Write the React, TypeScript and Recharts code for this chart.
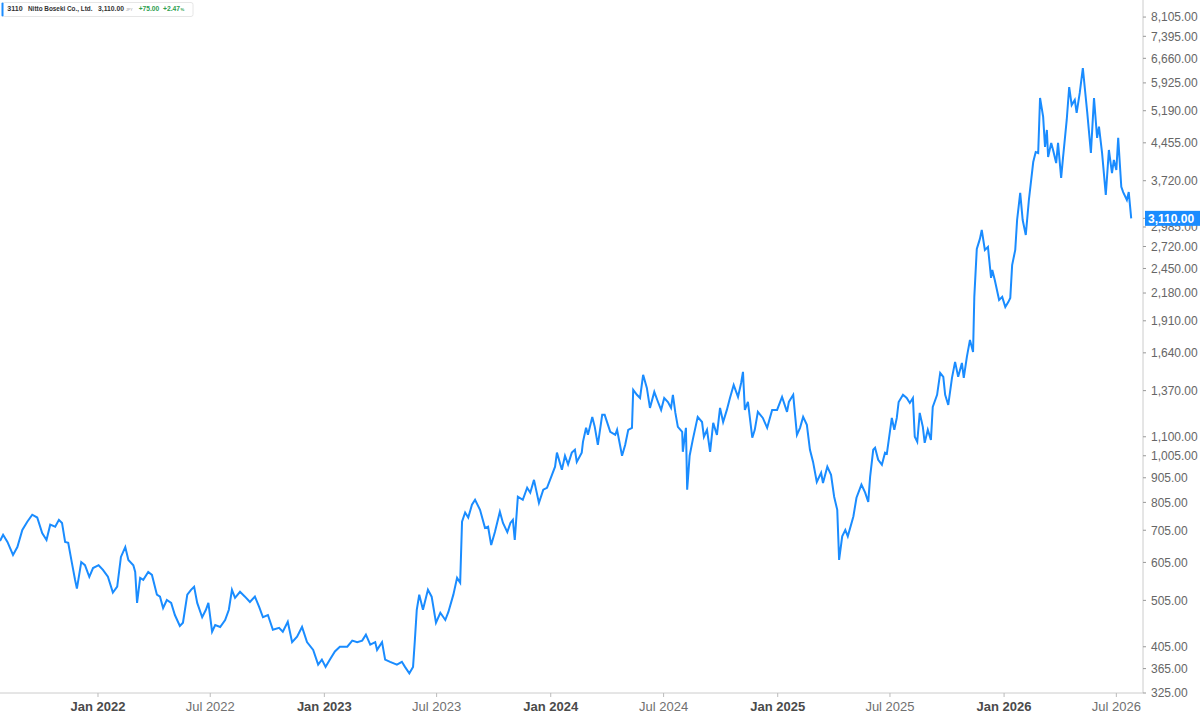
import React from "react";
import { LineChart, Line, XAxis, YAxis } from "recharts";

const dates: string[] = [
  "2021-07-27","2021-08-01","2021-08-08","2021-08-17","2021-08-24","2021-09-01","2021-09-09","2021-09-17","2021-09-25",
  "2021-10-03","2021-10-10","2021-10-16","2021-10-24","2021-10-30","2021-11-04","2021-11-09","2021-11-14","2021-11-20",
  "2021-11-25","2021-11-28","2021-12-05","2021-12-11","2021-12-18","2021-12-24","2022-01-02","2022-01-09","2022-01-17",
  "2022-01-25","2022-02-01","2022-02-07","2022-02-14","2022-02-19","2022-02-27","2022-03-02","2022-03-05","2022-03-10",
  "2022-03-15","2022-03-23","2022-03-29","2022-04-06","2022-04-11","2022-04-16","2022-04-22","2022-04-29","2022-05-05",
  "2022-05-13","2022-05-18","2022-05-25","2022-05-31","2022-06-05","2022-06-10","2022-06-18","2022-06-24","2022-06-28",
  "2022-07-04","2022-07-09","2022-07-17","2022-07-25","2022-07-31","2022-08-05","2022-08-10","2022-08-18","2022-08-26",
  "2022-09-03","2022-09-11","2022-09-18","2022-09-24","2022-10-02","2022-10-10","2022-10-20","2022-10-26","2022-11-03",
  "2022-11-10","2022-11-18","2022-11-26","2022-12-04","2022-12-14","2022-12-22","2022-12-28","2023-01-03","2023-01-10",
  "2023-01-18","2023-01-26","2023-02-07","2023-02-15","2023-02-23","2023-03-03","2023-03-09","2023-03-16","2023-03-24",
  "2023-03-27","2023-04-04","2023-04-09","2023-04-17","2023-04-28","2023-05-06","2023-05-11","2023-05-18","2023-05-24",
  "2023-05-27","2023-05-30","2023-06-03","2023-06-09","2023-06-17","2023-06-23","2023-06-30","2023-07-07","2023-07-15",
  "2023-07-20","2023-07-28","2023-08-03","2023-08-08","2023-08-11","2023-08-16","2023-08-21","2023-08-27","2023-09-01",
  "2023-09-09","2023-09-17","2023-09-22","2023-09-27","2023-10-03","2023-10-11","2023-10-16","2023-10-23","2023-10-28",
  "2023-11-01","2023-11-04","2023-11-09","2023-11-17","2023-11-24","2023-11-29","2023-12-05","2023-12-13","2023-12-20",
  "2023-12-26","2024-01-03","2024-01-08","2024-01-11","2024-01-19","2024-01-24","2024-01-29","2024-02-04","2024-02-09",
  "2024-02-12","2024-02-20","2024-02-22","2024-02-27","2024-03-01","2024-03-08","2024-03-12","2024-03-17","2024-03-24",
  "2024-03-28","2024-04-06","2024-04-14","2024-04-17","2024-04-25","2024-04-30","2024-05-05","2024-05-11","2024-05-13",
  "2024-05-19","2024-05-24","2024-05-29","2024-06-04","2024-06-09","2024-06-16","2024-06-22","2024-06-27","2024-07-02",
  "2024-07-08","2024-07-13","2024-07-16","2024-07-20","2024-07-24","2024-07-31","2024-08-01","2024-08-06","2024-08-08",
  "2024-08-12","2024-08-17","2024-08-25","2024-09-01","2024-09-04","2024-09-09","2024-09-14","2024-09-19","2024-09-25",
  "2024-09-30","2024-10-05","2024-10-11","2024-10-16","2024-10-22","2024-10-29","2024-11-03","2024-11-06","2024-11-09",
  "2024-11-14","2024-11-21","2024-11-25","2024-11-30","2024-12-08","2024-12-15","2024-12-23","2024-12-31","2025-01-08",
  "2025-01-16","2025-01-19","2025-01-26","2025-02-01","2025-02-06","2025-02-11","2025-02-17","2025-02-22","2025-02-27",
  "2025-03-05","2025-03-12","2025-03-15","2025-03-22","2025-03-28","2025-04-02","2025-04-07","2025-04-10","2025-04-15",
  "2025-04-20","2025-04-24","2025-05-03","2025-05-08","2025-05-16","2025-05-22","2025-05-27","2025-05-30","2025-06-04",
  "2025-06-07","2025-06-12","2025-06-18","2025-06-23","2025-06-26","2025-07-04","2025-07-08","2025-07-12","2025-07-15",
  "2025-07-22","2025-07-28","2025-08-02","2025-08-07","2025-08-10","2025-08-14","2025-08-18","2025-08-23","2025-08-26",
  "2025-08-31","2025-09-05","2025-09-08","2025-09-15","2025-09-20","2025-09-25","2025-09-28","2025-10-03","2025-10-09",
  "2025-10-14","2025-10-19","2025-10-25","2025-10-28","2025-11-02","2025-11-07","2025-11-12","2025-11-14","2025-11-18",
  "2025-11-23","2025-11-26","2025-12-01","2025-12-06","2025-12-11","2025-12-13","2025-12-17","2025-12-24","2025-12-29",
  "2026-01-03","2026-01-08","2026-01-11","2026-01-14","2026-01-19","2026-01-22","2026-01-27","2026-01-31","2026-02-05",
  "2026-02-10","2026-02-17","2026-02-21","2026-02-25","2026-02-28","2026-03-05","2026-03-08","2026-03-11","2026-03-13",
  "2026-03-18","2026-03-21","2026-03-26","2026-03-29","2026-04-03","2026-04-06","2026-04-12","2026-04-16","2026-04-20",
  "2026-04-25","2026-04-28","2026-05-03","2026-05-08","2026-05-11","2026-05-15","2026-05-21","2026-05-26","2026-05-31",
  "2026-06-03","2026-06-08","2026-06-14","2026-06-19","2026-06-24","2026-06-27","2026-07-01","2026-07-04","2026-07-09",
  "2026-07-12","2026-07-18","2026-07-21","2026-07-25",
];

const prices: number[] = [
  670,690,667,627,651,706,734,759,749,
  696,673,724,717,741,730,667,664,603,
  557,534,606,597,565,589,597,584,565,
  524,539,621,651,612,597,578,499,562,
  557,578,570,519,514,487,506,499,471,
  447,454,519,531,539,499,466,483,499,
  435,449,445,460,483,531,511,526,514,
  501,514,489,466,471,439,443,435,456,
  414,425,445,414,399,372,381,368,381,
  396,405,405,417,414,417,429,409,414,
  399,414,381,377,372,377,368,357,368,
  419,483,519,483,531,514,454,476,460,
  478,519,562,549,734,767,749,796,815,
  777,713,717,657,699,770,730,699,730,
  741,673,827,815,863,843,896,803,855,
  863,918,954,1020,940,1005,965,1020,1034,
  976,1020,1074,1148,1110,1209,1153,1058,1221,
  1221,1126,1110,1137,1005,1058,1137,1148,1375,
  1343,1323,1477,1388,1262,1362,1298,1250,1323,
  1298,1262,1343,1232,1153,1126,1024,1148,855,
  1005,1084,1209,1180,1100,1137,1024,1175,1110,
  1262,1180,1250,1323,1408,1330,1421,1498,1250,
  1298,1095,1137,1238,1203,1148,1250,1250,1330,
  1238,1298,1343,1110,1148,1209,1164,1034,976,
  887,927,883,954,918,827,777,612,685,
  706,685,753,823,876,843,807,909,1034,
  1044,986,963,1020,1015,1203,1137,1203,1298,
  1343,1323,1292,1323,1100,1074,1232,1153,1069,
  1137,1084,1268,1343,1491,1463,1343,1280,1456,
  1571,1463,1563,1456,1609,1744,1647,2140,2690,
  2820,2943,2676,2714,2342,2433,2320,2109,2140,
  2040,2090,2130,2490,2676,3086,3510,3086,2874,
  3394,4066,4265,4245,5515,5040,4370,4736,4165,
  4452,4306,4046,4452,3770,4146,4967,5810,5330,
  5463,5135,5648,6360,5810,5160,4245,5515,4560,
  4810,4245,3475,4306,3855,4106,3915,4560,3612,
  3524,3394,3524,3110,
];

const xTickDates: string[] = [
  "2022-01-01","2022-07-01","2023-01-01","2023-07-01","2024-01-01",
  "2024-07-01","2025-01-01","2025-07-01","2026-01-01","2026-07-01",
];
const xTickLabels: string[] = [
  "Jan 2022","Jul 2022","Jan 2023","Jul 2023","Jan 2024",
  "Jul 2024","Jan 2025","Jul 2025","Jan 2026","Jul 2026",
];
const yTicks: number[] = [
  325,365,405,505,605,705,805,905,1005,1100,1370,1640,1910,2180,2450,2720,2985,3720,4455,5190,5925,6660,7395,8105,3110,
];
const lastPrice = 3110;
const xDomain: string[] = ["2021-07-27", "2026-08-13"];
const yDomain: number[] = [325, 8790];

const data = dates.map((d, i) => ({ t: Date.parse(d), price: prices[i] }));
const xTicks = xTickDates.map((d) => Date.parse(d));

const FONT = "'Liberation Sans', Arial, Helvetica, sans-serif";
const BLUE = "#1a8cff";
const GREEN = "#2e9e4f";

const fmt = (v: number) =>
  v.toLocaleString("en-US", { minimumFractionDigits: 2, maximumFractionDigits: 2 });

const XTick = (props: any) => {
  const { x, y, payload } = props;
  const idx = xTicks.indexOf(payload.value);
  const label = idx >= 0 ? xTickLabels[idx] : "";
  const isJan = label.startsWith("Jan");
  return (
    <text
      x={x}
      y={y}
      dy="0.71em"
      textAnchor="middle"
      fontFamily={FONT}
      fontSize={13}
      fontWeight={isJan ? 700 : 400}
      fill={isJan ? "#4a4a4a" : "#707070"}
    >
      {label}
    </text>
  );
};

const YTick = (props: any) => {
  const { x, y, payload } = props;
  const v = payload.value as number;
  if (v === lastPrice) {
    return (
      <g>
        <rect x={x - 6} y={y - 7.5} width={57} height={15} fill={BLUE} />
        <text
          x={x - 3}
          y={y}
          dy="0.355em"
          textAnchor="start"
          fontFamily={FONT}
          fontSize={12}
          fontWeight={700}
          fill="#ffffff"
        >
          {fmt(v)}
        </text>
      </g>
    );
  }
  return (
    <text
      x={x}
      y={y}
      dy="0.355em"
      textAnchor="start"
      fontFamily={FONT}
      fontSize={12}
      fill="#666666"
    >
      {fmt(v)}
    </text>
  );
};

const Legend = () => {
  const base = { fontFamily: FONT, fontWeight: 700 as const, lengthAdjust: "spacingAndGlyphs" as const };
  const by = 11.4;
  return (
    <svg
      width={200}
      height={20}
      style={{ position: "absolute", left: 0, top: 0 }}
    >
      <rect x={2.5} y={2.5} width={190.5} height={14} rx={2} fill="#ffffff" stroke="#e6e6e6" />
      <rect x={1.5} y={2.5} width={2} height={14} rx={1} fill={BLUE} />
      <text {...base} x={7.3} y={by} fontSize={6.6} fill="#333" textLength={15.4}>3110</text>
      <text {...base} x={28} y={by} fontSize={6.6} fill="#333" textLength={64.5}>Nitto Boseki Co., Ltd.</text>
      <text {...base} x={98} y={by} fontSize={6.6} fill="#333" textLength={26}>3,110.00</text>
      <text {...base} x={126} y={by} fontSize={3.6} fontWeight={400} fill="#999" textLength={6.5}>JPY</text>
      <text {...base} x={138.7} y={by} fontSize={6.6} fill={GREEN} textLength={20.6}>+75.00</text>
      <text {...base} x={163} y={by} fontSize={6.6} fill={GREEN} textLength={17}>+2.47</text>
      <text {...base} x={180.5} y={by} fontSize={4.4} fill={GREEN} textLength={3.8}>%</text>
    </svg>
  );
};

export default function App() {
  return (
    <div style={{ position: "absolute", left: 0, top: 0, width: 1200, height: 717, background: "#fff" }}>
      <LineChart
        width={1200}
        height={717}
        data={data}
        margin={{ top: 0, right: 0, bottom: 0, left: 0 }}
      >
        <XAxis
          dataKey="t"
          type="number"
          scale="time"
          domain={xDomain.map((d) => Date.parse(d))}
          allowDataOverflow
          ticks={xTicks}
          interval={0}
          height={24}
          tickSize={4}
          tickMargin={5}
          stroke="#cccccc"
          tickLine={{ stroke: "#bbbbbb" }}
          tick={<XTick />}
        />
        <YAxis
          orientation="right"
          scale="log"
          domain={yDomain}
          allowDataOverflow
          ticks={yTicks}
          interval={0}
          width={57}
          tickSize={3}
          tickMargin={5}
          stroke="#cccccc"
          tickLine={{ stroke: "#999999" }}
          tick={<YTick />}
        />
        <Line
          type="linear"
          dataKey="price"
          stroke={BLUE}
          strokeWidth={2}
          dot={false}
          isAnimationActive={false}
        />
      </LineChart>
      <Legend />
    </div>
  );
}
